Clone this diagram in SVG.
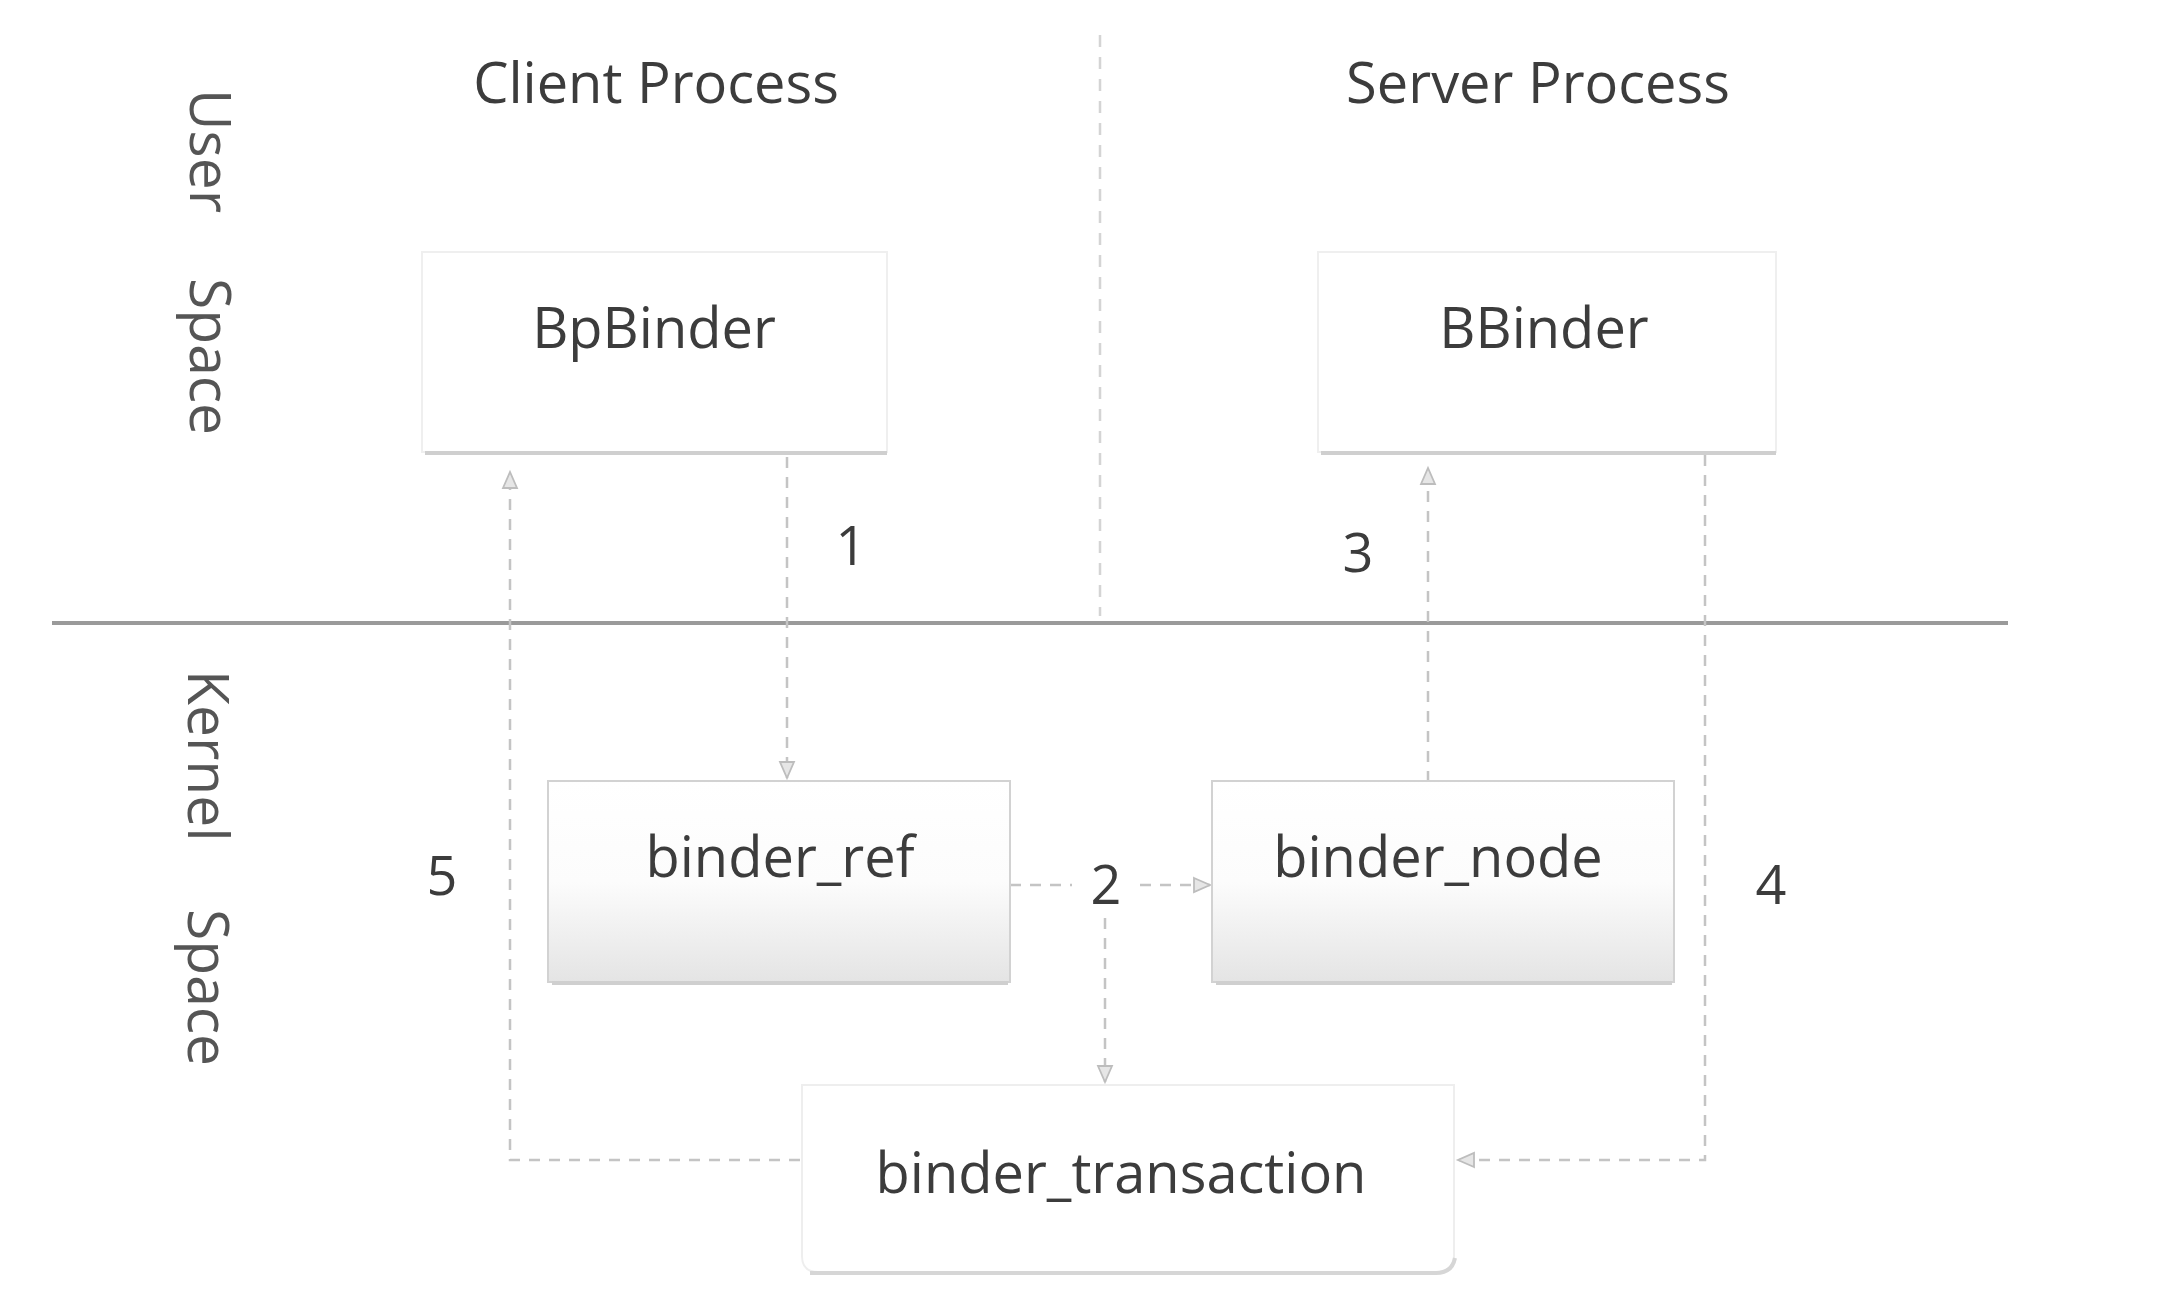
<svg xmlns="http://www.w3.org/2000/svg" width="2178" height="1302" viewBox="0 0 2178 1302">
<style>
.lbl{font-family:"Open Sans","Liberation Sans",sans-serif;font-size:56px;fill:#3c3c3c;text-anchor:middle}
.side{font-family:"Open Sans","Liberation Sans",sans-serif;font-size:57px;fill:#555}
.num{font-family:"Open Sans","Liberation Sans",sans-serif;font-size:54px;fill:#3c3c3c;text-anchor:middle}
.conn{fill:none;stroke:#c4c4c4;stroke-width:2.5;stroke-dasharray:11 9}
.ubox{fill:#ffffff;stroke:#efefef;stroke-width:2}
.kbox{fill:url(#kg);stroke:#d2d2d2;stroke-width:2}
.shadow{stroke:#cfcfcf;stroke-width:4;fill:none}
</style>
<defs>
<linearGradient id="kg" x1="0" y1="0" x2="0" y2="1">
<stop offset="0" stop-color="#ffffff"/>
<stop offset="0.5" stop-color="#fcfcfc"/>
<stop offset="1" stop-color="#e4e4e4"/>
</linearGradient>
<marker id="ah" viewBox="-2 -2 20 18" refX="16" refY="7" markerWidth="20" markerHeight="18" markerUnits="userSpaceOnUse" orient="auto" overflow="visible">
<path d="M0,0 L16,7 L0,14 Z" fill="#e6e6e6" stroke="#bdbdbd" stroke-width="1.8"/>
</marker>
</defs>
<rect width="2178" height="1302" fill="#ffffff"/>

<g id="layout">
<line x1="1100" y1="35" x2="1100" y2="616" stroke="#d4d4d4" stroke-width="2.5" stroke-dasharray="12 10"/>
<line x1="52" y1="623" x2="2008" y2="623" stroke="#9a9a9a" stroke-width="4"/>
<text class="lbl" x="656" y="103">Client Process</text>
<text class="lbl" x="1538" y="103">Server Process</text>
<text class="side" transform="translate(190,89) rotate(90)"><tspan x="0">User</tspan><tspan x="189">Space</tspan></text>
<text class="side" transform="translate(188,670) rotate(90)"><tspan x="0">Kernel</tspan><tspan x="239">Space</tspan></text>
</g>

<g id="connectors">
<path class="conn" d="M787,457 L787,778" marker-end="url(#ah)"/>
<path class="conn" d="M1010,885 L1072,885 M1140,885 L1210,885" marker-end="url(#ah)"/>
<path class="conn" d="M1105,918 L1105,1082" marker-end="url(#ah)"/>
<path class="conn" d="M1428,782 L1428,468" marker-end="url(#ah)"/>
<path class="conn" d="M1705,455 L1705,1160 L1458,1160" marker-end="url(#ah)"/>
<path class="conn" d="M800,1160 L510,1160 L510,472" marker-end="url(#ah)"/>
<text class="num" x="851" y="565">1</text>
<text class="num" x="1106" y="904">2</text>
<text class="num" x="1358" y="572">3</text>
<text class="num" x="1771" y="904">4</text>
<text class="num" x="442" y="895">5</text>
</g>

<g id="BpBinder">
<rect class="ubox" x="422" y="252" width="465" height="200"/>
<line class="shadow" x1="425" y1="453" x2="887" y2="453"/>
<text class="lbl" x="654" y="348">BpBinder</text>
</g>

<g id="BBinder">
<rect class="ubox" x="1318" y="252" width="458" height="200"/>
<line class="shadow" x1="1321" y1="453" x2="1776" y2="453"/>
<text class="lbl" x="1544" y="348">BBinder</text>
</g>

<g id="binder_ref">
<rect class="kbox" x="548" y="781" width="462" height="201"/>
<line class="shadow" x1="552" y1="983" x2="1008" y2="983" stroke="#bdbdbd"/>
<text class="lbl" x="780" y="877">binder_ref</text>
</g>

<g id="binder_node">
<rect class="kbox" x="1212" y="781" width="462" height="201"/>
<line class="shadow" x1="1216" y1="983" x2="1672" y2="983" stroke="#bdbdbd"/>
<text class="lbl" x="1438" y="877">binder_node</text>
</g>

<g id="binder_transaction">
<path d="M802,1085 L1454,1085 L1454,1255 Q1454,1272 1437,1272 L818,1272 Q802,1272 802,1256 Z" fill="#ffffff" stroke="#eeeeee" stroke-width="2"/>
<path d="M810,1273 L1436,1273 Q1452,1273 1455,1258" fill="none" stroke="#d6d6d6" stroke-width="4"/>
<text class="lbl" x="1121" y="1193">binder_transaction</text>
</g>
</svg>
